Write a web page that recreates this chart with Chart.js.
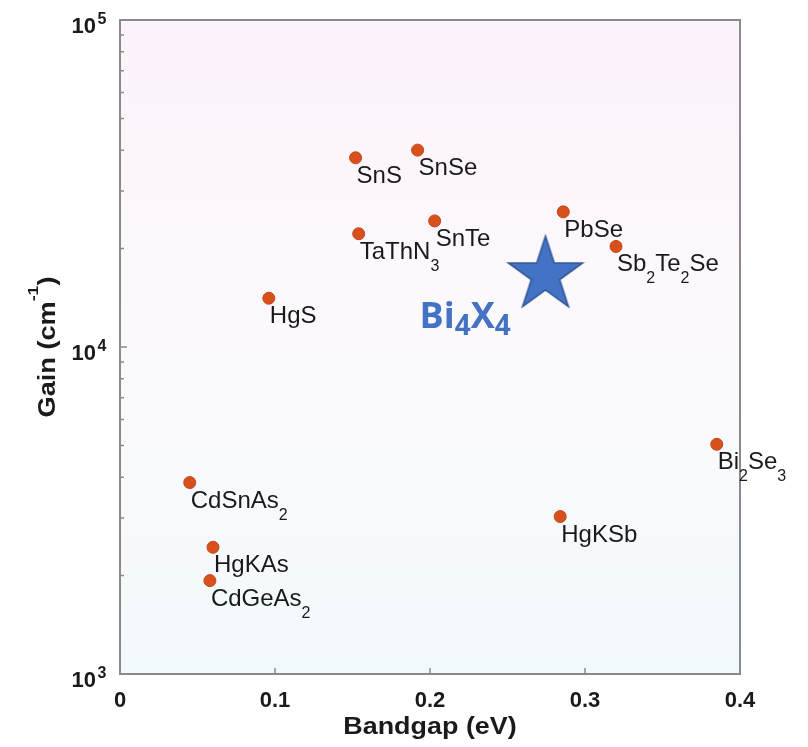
<!DOCTYPE html>
<html>
<head>
<meta charset="utf-8">
<script src="https://cdn.jsdelivr.net/npm/chart.js@4.4.0/dist/chart.umd.min.js"></script>
<style>
  html, body { margin: 0; padding: 0; background: #fff; }
</style>
</head>
<body>
<canvas id="gainChart" width="808" height="747"></canvas>
<script>
// "_d" marks a subscript digit in a name
const compounds = ['SnS', 'SnSe', 'TaThN_3', 'SnTe', 'PbSe', 'Sb_2Te_2Se', 'HgS', 'Bi_2Se_3', 'CdSnAs_2', 'HgKSb', 'HgKAs', 'CdGeAs_2'];
const bandgap = [0.152, 0.192, 0.154, 0.203, 0.286, 0.320, 0.096, 0.385, 0.045, 0.284, 0.060, 0.058];
const gain = [37900, 40000, 22200, 24300, 25900, 20300, 14100, 5040, 3850, 3030, 2440, 1930];

const starName = 'Bi_4X_4';
const starBandgap = [0.2745];
const starGain = [16600];

const xTicks = [0, 0.1, 0.2, 0.3, 0.4];
const xTickLabels = ['0', '0.1', '0.2', '0.3', '0.4'];
const yDecades = [1e3, 1e4, 1e5];
const yTickExps = ['3', '4', '5'];

const SANS = '"Liberation Sans", Arial, Helvetica, sans-serif';
const AXIS = '#8a8a8a';
const INK = '#1a1a1a';

function splitName(name) {
  return name.split(/_(\d)/).map((t, i) => ({ t, sub: i % 2 === 1 }));
}

// draws text parts from x on baseline y, returns the end x
function drawParts(ctx, parts, x, y) {
  parts.forEach(p => {
    ctx.font = p.font;
    ctx.fillText(p.t, x, y + (p.dy || 0));
    x += ctx.measureText(p.t).width;
  });
  return x;
}

function partsWidth(ctx, parts) {
  let w = 0;
  parts.forEach(p => { ctx.font = p.font; w += ctx.measureText(p.t).width; });
  return w;
}

function makeStar(R) {
  const c = document.createElement('canvas');
  const s = Math.ceil(R * 2 + 4);
  c.width = s; c.height = s;
  const g = c.getContext('2d');
  g.beginPath();
  for (let i = 0; i < 10; i++) {
    const r = i % 2 ? R * 0.382 : R;
    const a = -Math.PI / 2 + i * Math.PI / 5;
    g.lineTo(s / 2 + r * Math.cos(a), s / 2 + r * Math.sin(a));
  }
  g.closePath();
  g.fillStyle = '#4472c4';
  g.fill();
  g.strokeStyle = '#2f5597';
  g.lineWidth = 1.5;
  g.stroke();
  return c;
}

const frame = {
  id: 'frame',
  beforeDatasetsDraw(chart) {
    const { ctx, chartArea: a } = chart;
    const x = chart.scales.x, y = chart.scales.y;
    ctx.save();

    const bg = ctx.createLinearGradient(0, a.top, 0, a.bottom);
    bg.addColorStop(0, '#fcf2fb');
    bg.addColorStop(0.5, '#fcfafd');
    bg.addColorStop(1, '#f2f9fc');
    ctx.fillStyle = bg;
    ctx.fillRect(a.left, a.top, a.right - a.left, a.bottom - a.top);

    ctx.strokeStyle = AXIS;
    ctx.lineWidth = 2;
    ctx.strokeRect(a.left, a.top, a.right - a.left, a.bottom - a.top);

    // inward ticks
    ctx.lineWidth = 1.5;
    ctx.beginPath();
    for (let d = 0; d < yDecades.length - 1; d++) {
      for (let m = 1; m < 10; m++) {
        const v = yDecades[d] * m;
        if (m === 1 && d === 0) continue;
        const py = y.getPixelForValue(v);
        const len = m === 1 ? 7 : 4;
        ctx.moveTo(a.left, py);
        ctx.lineTo(a.left + len, py);
      }
    }
    xTicks.slice(1, -1).forEach(v => {
      const px = x.getPixelForValue(v);
      ctx.moveTo(px, a.bottom);
      ctx.lineTo(px, a.bottom - 6);
    });
    ctx.stroke();

    ctx.fillStyle = INK;
    ctx.textBaseline = 'alphabetic';

    // x tick labels
    ctx.font = 'bold 22px ' + SANS;
    ctx.textAlign = 'center';
    xTicks.forEach((v, i) => {
      ctx.fillText(xTickLabels[i], x.getPixelForValue(v), a.bottom + 33);
    });

    // y tick labels 10^n
    yDecades.forEach((v, i) => {
      const py = y.getPixelForValue(v);
      ctx.textAlign = 'right';
      ctx.font = 'bold 22px ' + SANS;
      ctx.fillText('10', a.left - 24, py + 13);
      ctx.textAlign = 'left';
      ctx.font = 'bold 16px ' + SANS;
      ctx.fillText(yTickExps[i], a.left - 22.5, py + 4);
    });

    // x title
    ctx.textAlign = 'left';
    const xt = [{ t: 'Bandgap (eV)', font: 'bold 23px ' + SANS }];
    ctx.save();
    ctx.translate((a.left + a.right) / 2, 734);
    ctx.scale(1.17, 1);
    drawParts(ctx, xt, -partsWidth(ctx, xt) / 2, 0);
    ctx.restore();

    // y title
    const yt = [
      { t: 'Gain (cm', font: 'bold 23px ' + SANS },
      { t: '-1', font: 'bold 15px ' + SANS, dy: -17 },
      { t: ')', font: 'bold 23px ' + SANS }
    ];
    ctx.save();
    ctx.translate(55, (a.top + a.bottom) / 2);
    ctx.rotate(-Math.PI / 2);
    ctx.scale(1.18, 1);
    drawParts(ctx, yt, -partsWidth(ctx, yt) / 2, 0);
    ctx.restore();

    ctx.restore();
  },
  afterDatasetsDraw(chart) {
    const { ctx } = chart;
    ctx.save();
    ctx.textAlign = 'left';
    ctx.textBaseline = 'alphabetic';

    ctx.fillStyle = INK;
    chart.getDatasetMeta(0).data.forEach((pt, i) => {
      const parts = splitName(compounds[i]).map(p => ({
        t: p.t,
        font: (p.sub ? '16px ' : '24px ') + SANS,
        dy: p.sub ? 12 : 0
      }));
      drawParts(ctx, parts, pt.x + 1, pt.y + 25);
    });

    ctx.fillStyle = '#4472c4';
    const s = chart.getDatasetMeta(1).data[0];
    const parts = splitName(starName).map(p => ({
      t: p.t,
      font: p.sub ? 'bold 28px "Open Sans", sans-serif' : 'bold 36px "Open Sans", sans-serif',
      dy: p.sub ? 7 : 0
    }));
    drawParts(ctx, parts, s.x - 126, s.y + 53);
    ctx.restore();
  }
};

new Chart(document.getElementById('gainChart'), {
  type: 'scatter',
  data: {
    datasets: [
      {
        data: bandgap.map((v, i) => ({ x: v, y: gain[i] })),
        pointRadius: 6,
        backgroundColor: '#d8501c',
        borderColor: '#c4461a',
        borderWidth: 1
      },
      {
        // canvas point style is drawn at its own size, radius only keeps layout padding small
        data: starBandgap.map((v, i) => ({ x: v, y: starGain[i] })),
        pointStyle: makeStar(39),
        pointRadius: 5
      }
    ]
  },
  options: {
    responsive: false,
    animation: false,
    events: [],
    devicePixelRatio: 1,
    layout: { padding: { left: 120, top: 20, right: 68, bottom: 73 } },
    plugins: { legend: { display: false }, tooltip: { enabled: false } },
    scales: {
      x: { type: 'linear', display: false, min: 0, max: 0.4 },
      y: { type: 'logarithmic', display: false, min: 1000, max: 100000 }
    }
  },
  plugins: [frame]
});
</script>
</body>
</html>
